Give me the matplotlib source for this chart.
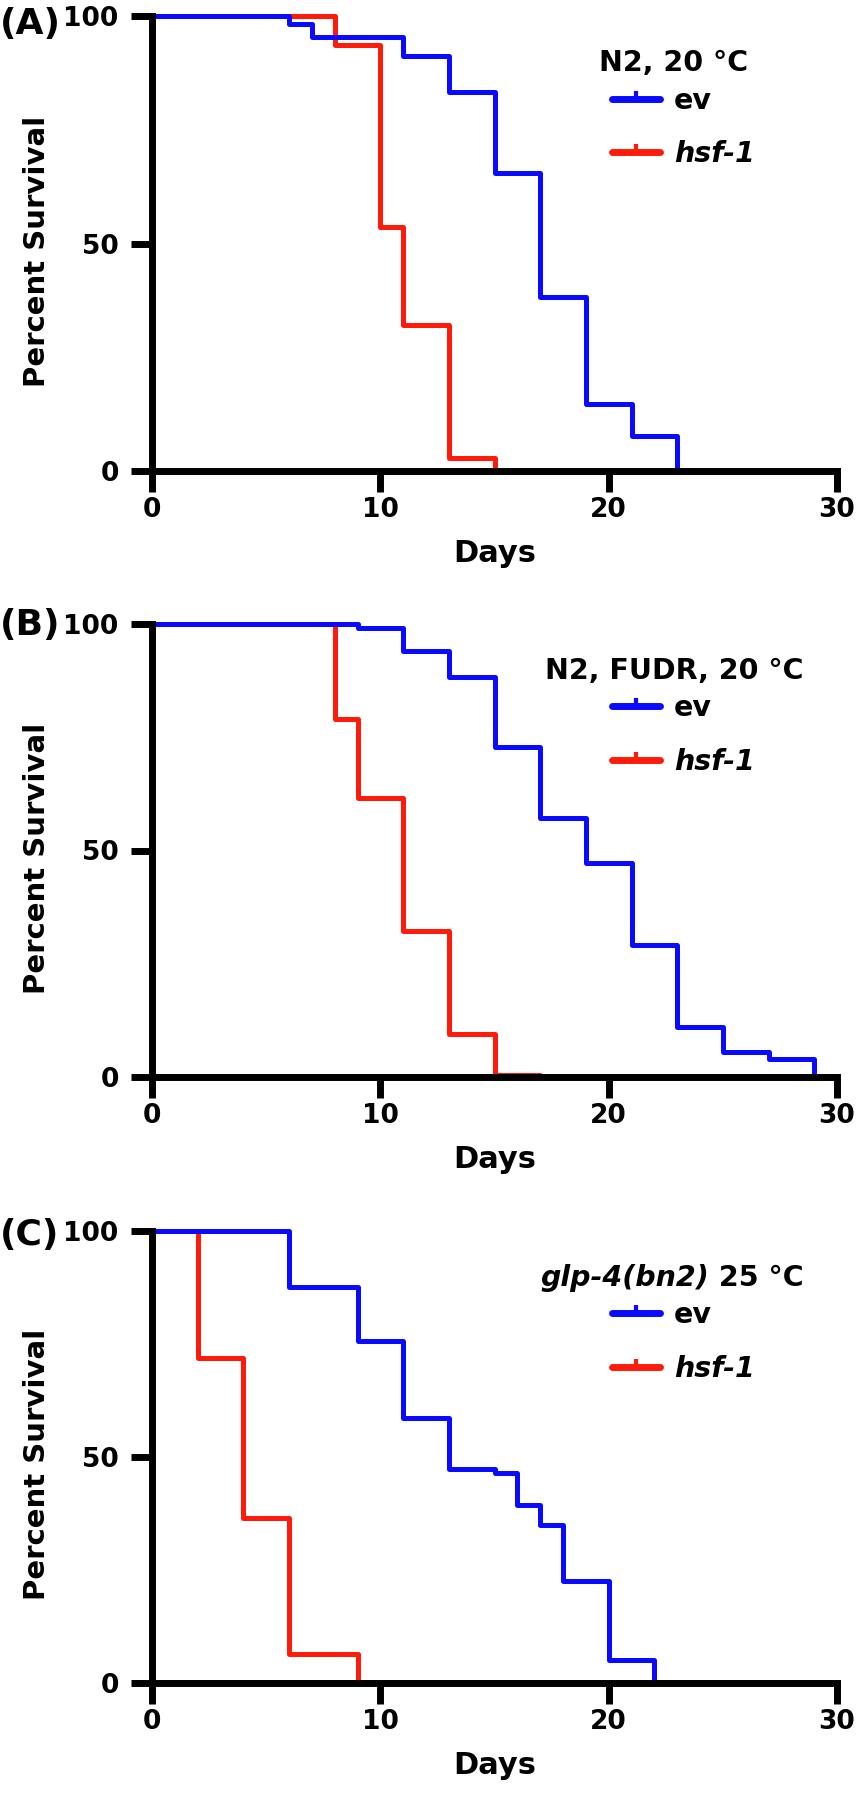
import matplotlib
matplotlib.use('Agg')
import matplotlib.pyplot as plt
from matplotlib.lines import Line2D

plt.rcParams['font.family'] = ['DejaVu Sans']
plt.rcParams['font.weight'] = 'bold'

# Panel A: N2, 20 °C
a_ev_days = [0, 6, 7, 11, 13, 15, 17, 19, 21, 23]
a_ev_surv = [100, 98.3, 95.3, 91.3, 83.3, 65.5, 38.2, 14.8, 7.8, 0]
a_hsf_days = [0, 8, 10, 11, 13, 15]
a_hsf_surv = [100, 93.7, 53.6, 32.1, 2.8, 0]

# Panel B: N2, FUDR, 20 °C
b_ev_days = [0, 9, 11, 13, 15, 17, 19, 21, 23, 25, 27, 29]
b_ev_surv = [100, 99.2, 94.1, 88.2, 72.8, 57.2, 47.2, 29.1, 11.0, 5.6, 4.0, 0]
b_hsf_days = [0, 8, 9, 11, 13, 15, 17]
b_hsf_surv = [100, 79.0, 61.5, 32.2, 9.6, 0.5, 0]

# Panel C: glp-4(bn2) 25 °C
c_ev_days = [0, 6, 9, 11, 13, 15, 16, 17, 18, 20, 22]
c_ev_surv = [100, 87.7, 75.6, 58.6, 47.4, 46.4, 39.4, 34.9, 22.6, 5.1, 0]
c_hsf_days = [0, 2, 4, 6, 9]
c_hsf_surv = [100, 71.8, 36.6, 6.5, 0]

panel_labels = ['(A)', '(B)', '(C)']
titles = ['N2, 20 °C', 'N2, FUDR, 20 °C', None]
legend_labels = ['ev', 'hsf-1']
x_ticks = [0, 10, 20, 30]
y_ticks = [0, 50, 100]

ev_color = '#0A0AFF'
hsf_color = '#FF1A0A'

panels = [
    (a_ev_days, a_ev_surv, a_hsf_days, a_hsf_surv),
    (b_ev_days, b_ev_surv, b_hsf_days, b_hsf_surv),
    (c_ev_days, c_ev_surv, c_hsf_days, c_hsf_surv),
]

W, H = 859, 1800
fig = plt.figure(figsize=(W / 100, H / 100), dpi=100)

# axes boxes in pixels from the top: (top, bottom)
boxes = [(16, 471), (624, 1077), (1231, 1683)]
label_baselines = [34, 635, 1245]
x_left, x_right = 152, 837

for i, (ev_d, ev_s, hsf_d, hsf_s) in enumerate(panels):
    top, bot = boxes[i]
    ax = fig.add_axes([x_left / W, 1 - bot / H, (x_right - x_left) / W, (bot - top) / H])
    ax.step(hsf_d, hsf_s, where='post', color=hsf_color, lw=3.6, clip_on=False)
    ax.step(ev_d, ev_s, where='post', color=ev_color, lw=3.6, clip_on=False)

    ax.set_xlim(0, 30)
    ax.set_ylim(0, 100)
    ax.set_xticks(x_ticks)
    ax.set_yticks(y_ticks)
    for side in ['top', 'right']:
        ax.spines[side].set_visible(False)
    for side in ['left', 'bottom']:
        ax.spines[side].set_linewidth(5)
        ax.spines[side].set_capstyle('projecting')
    ax.tick_params(axis='both', width=5, length=15, labelsize=19)
    ax.tick_params(axis='y', pad=9)
    ax.tick_params(axis='x', pad=4)
    ax.set_xlabel('Days', fontsize=22, fontweight='bold', labelpad=11)
    ax.set_ylabel('Percent Survival', fontsize=21, fontweight='bold')
    ax.yaxis.set_label_coords(-0.147, 0.483)

    fig.text(0, 1 - label_baselines[i] / H, panel_labels[i], fontsize=26,
             fontweight='bold', ha='left', va='baseline')

    # legend title
    if titles[i] is not None:
        ax.text(0.762, 0.897, titles[i], transform=ax.transAxes, fontsize=20.5,
                fontweight='bold', ha='center', va='center')
    else:
        t1 = ax.text(0.813, 0.897, 'glp-4(bn2)', transform=ax.transAxes,
                     fontsize=20.5, fontweight='bold', style='italic',
                     ha='right', va='center')
        ax.annotate(' 25 °C', xy=(1, 0), xycoords=t1, fontsize=20.5,
                    fontweight='bold', ha='left', va='bottom')

    handles = [Line2D([], [], color=c, lw=5, marker=2, markersize=6,
                      markeredgewidth=3, solid_capstyle='round')
               for c in (ev_color, hsf_color)]
    leg = ax.legend(handles, legend_labels, loc='upper left',
                    bbox_to_anchor=(0.671, 0.845), frameon=False,
                    borderpad=0, borderaxespad=0, handlelength=1.69,
                    handletextpad=0.5, labelspacing=0.91,
                    prop={'size': 20.5, 'weight': 'bold'})
    leg.get_texts()[1].set_style('italic')

fig.savefig('out.png', dpi=100)
plt.close(fig)
